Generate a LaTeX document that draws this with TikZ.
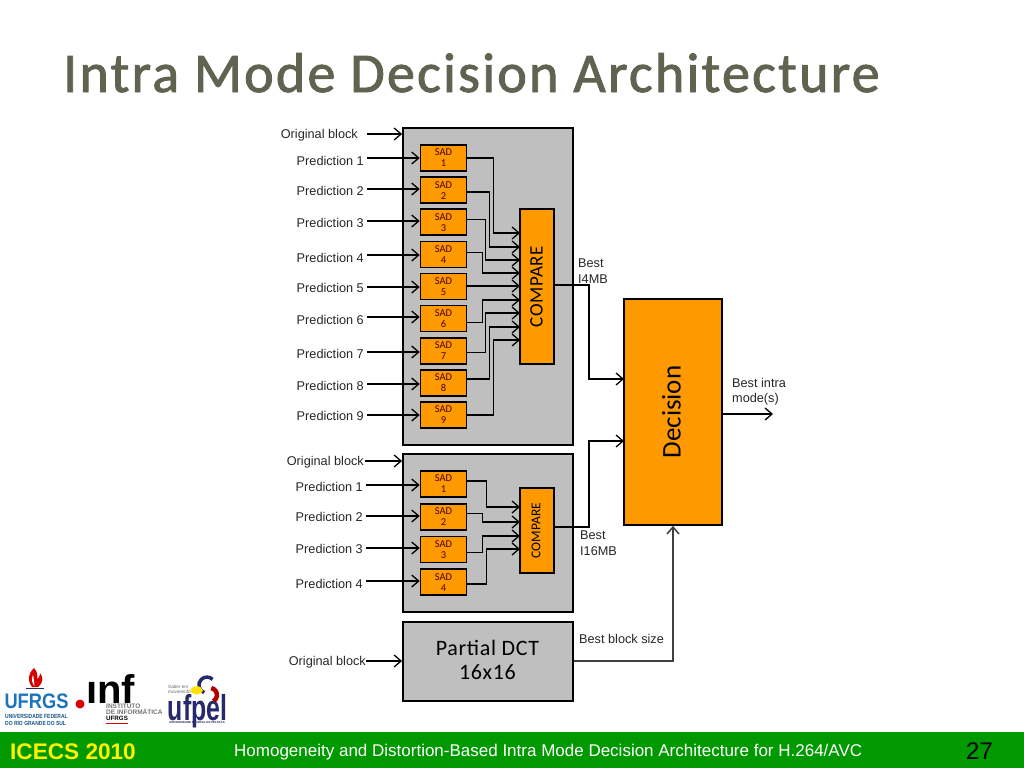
\documentclass[tikz,border=0pt]{standalone}
\usepackage{fontspec}
\setmainfont{Liberation Sans}
\newfontfamily\boxfont{Carlito}
\newfontfamily\wideboxfont[LetterSpace=3]{Carlito}
\newfontfamily\titlefont[LetterSpace=4,FakeBold=1.6]{Carlito}
\usetikzlibrary{arrows.meta}
\definecolor{blockgray}{HTML}{BFBFBF}
\definecolor{sadorange}{HTML}{FF9900}
\definecolor{titlegray}{HTML}{5F6350}
\definecolor{footgreen}{HTML}{009900}
\definecolor{ufblue}{HTML}{1C75BC}
\definecolor{ufnavy}{HTML}{27296D}
\tikzstyle{block} = [rectangle, minimum width=170pt, inner sep=0pt, draw=black, line width=1.8pt, fill=blockgray]
\tikzstyle{sad} = [rectangle, minimum width=46pt, minimum height=26pt, inner sep=0pt, text centered, align=center, draw=black, line width=1.6pt, fill=sadorange, text=black!70!red, font=\boxfont\fontsize{10.5}{11}\selectfont]
\tikzstyle{compare} = [rectangle, minimum width=34pt, inner sep=0pt, draw=black, line width=1.4pt, fill=sadorange, font=\boxfont]
\tikzstyle{label} = [inner sep=0pt, align=left, font=\fontsize{12.7}{15.5}\selectfont, text=black!85]
\tikzstyle{arrow} = [line width=1.3pt,-{Straight Barb[length=7pt,width=12pt]}]

\begin{document}
\begin{tikzpicture}[x=1pt,y=-1pt]
    \useasboundingbox (0,0) rectangle (1024,768);

    % Title and footer
    \node (title) [anchor=base west, inner sep=0pt, text=titlegray, font=\titlefont\fontsize{56}{60}\selectfont] at (63,92) {Intra Mode Decision Architecture};
    \node (footer) [anchor=north west, minimum width=1024pt, minimum height=36pt, inner sep=0pt, fill=footgreen] at (0,732) {};
    \node (conf) [anchor=west, inner sep=0pt, text=yellow, font=\bfseries\fontsize{22.6}{24}\selectfont] at (10,752) {ICECS 2010};
    \node (paper) [anchor=west, inner sep=0pt, text=white, font=\fontsize{17}{18}\selectfont] at (234,752) {Homogeneity and Distortion-Based Intra Mode Decision Architecture for H.264/AVC};
    \node (page) [anchor=west, inner sep=0pt, font=\fontsize{24}{26}\selectfont] at (966,751) {27};

    % Blocks
    \node (block4) [block, minimum height=317pt] at (488,286.5) {};
    \node (block16) [block, minimum height=158pt] at (488,533) {};
    \node (dct) [block, minimum height=79pt] at (488,661.5) {};
    \node (dctText) [align=center, inner sep=0pt, font=\wideboxfont\fontsize{22}{24}\selectfont] at (487.5,659.5) {Partial DCT\\16x16};

    % SAD nodes, I4MB
    \begin{scope}[node distance=32.125pt]
    \node (sad1) [sad] at (443.5,158) {SAD\\1};
    \node (sad2) [sad, below of=sad1] {SAD\\2};
    \node (sad3) [sad, below of=sad2] {SAD\\3};
    \node (sad4) [sad, below of=sad3] {SAD\\4};
    \node (sad5) [sad, below of=sad4] {SAD\\5};
    \node (sad6) [sad, below of=sad5] {SAD\\6};
    \node (sad7) [sad, below of=sad6] {SAD\\7};
    \node (sad8) [sad, below of=sad7] {SAD\\8};
    \node (sad9) [sad, below of=sad8] {SAD\\9};
    \end{scope}

    % SAD nodes, I16MB
    \begin{scope}[node distance=32.7pt]
    \node (sadA) [sad] at (443.5,484) {SAD\\1};
    \node (sadB) [sad, below of=sadA] {SAD\\2};
    \node (sadC) [sad, below of=sadB] {SAD\\3};
    \node (sadD) [sad, below of=sadC] {SAD\\4};
    \end{scope}

    % Compare and decision
    \node (cmp4) [compare, minimum height=155pt, font=\wideboxfont\fontsize{19}{20}\selectfont] at (537,286.5) {\hspace*{-1pt}\rotatebox{90}{COMPARE}};
    \node (cmp16) [compare, minimum height=85pt, font=\boxfont\fontsize{13.5}{14}\selectfont] at (537,530.5) {\hspace*{-2pt}\rotatebox{90}{COMPARE}};
    \node (decision) [compare, minimum width=98pt, minimum height=226pt, line width=1.6pt, font=\boxfont\fontsize{27}{28}\selectfont] at (673,412) {\hspace*{-3pt}\rotatebox{90}{Decision}};

    % Input labels
    \node (orig4) [label, anchor=east] at (358,135.5) {Original block};
    \node (p1) [label, anchor=east] at (364,161) {Prediction 1};
    \node (p2) [label, anchor=east] at (364,190.5) {Prediction 2};
    \node (p3) [label, anchor=east] at (364,222.5) {Prediction 3};
    \node (p4) [label, anchor=east] at (364,257.5) {Prediction 4};
    \node (p5) [label, anchor=east] at (364,288) {Prediction 5};
    \node (p6) [label, anchor=east] at (364,319.5) {Prediction 6};
    \node (p7) [label, anchor=east] at (364,353.5) {Prediction 7};
    \node (p8) [label, anchor=east] at (364,385.5) {Prediction 8};
    \node (p9) [label, anchor=east] at (364,416) {Prediction 9};
    \node (orig16) [label, anchor=east] at (364,462) {Original block};
    \node (pA) [label, anchor=east] at (363,487) {Prediction 1};
    \node (pB) [label, anchor=east] at (363,516.5) {Prediction 2};
    \node (pC) [label, anchor=east] at (363,548.5) {Prediction 3};
    \node (pD) [label, anchor=east] at (363,583.5) {Prediction 4};
    \node (origD) [label, anchor=east] at (366,662.5) {Original block};

    % Output labels
    \node (bestA) [label, anchor=north west] at (578,259) {Best\\I4MB};
    \node (bestB) [label, anchor=north west] at (580,531) {Best\\I16MB};
    \node (bestC) [label, anchor=west] at (579,639) {Best block size};
    \node (bestD) [label, anchor=north west] at (732,378) {Best intra\\mode(s)};

    % Input arrows
    \coordinate (e0) at (367,134);
    \coordinate (e1) at (367,158);
    \coordinate (e2) at (367,189);
    \coordinate (e3) at (367,221);
    \coordinate (e4) at (367,255);
    \coordinate (e5) at (367,287);
    \coordinate (e6) at (367,317);
    \coordinate (e7) at (367,352);
    \coordinate (e8) at (367,384);
    \coordinate (e9) at (367,415);
    \draw [arrow] (e0) -- (e0 -| block4.west);
    \draw [arrow] (e1) -- (e1 -| sad1.west);
    \draw [arrow] (e2) -- (e2 -| sad2.west);
    \draw [arrow] (e3) -- (e3 -| sad3.west);
    \draw [arrow] (e4) -- (e4 -| sad4.west);
    \draw [arrow] (e5) -- (e5 -| sad5.west);
    \draw [arrow] (e6) -- (e6 -| sad6.west);
    \draw [arrow] (e7) -- (e7 -| sad7.west);
    \draw [arrow] (e8) -- (e8 -| sad8.west);
    \draw [arrow] (e9) -- (e9 -| sad9.west);
    \coordinate (f0) at (365,461);
    \coordinate (f1) at (366,485);
    \coordinate (f2) at (366,516);
    \coordinate (f3) at (366,548);
    \coordinate (f4) at (366,581);
    \coordinate (f5) at (366,661);
    \draw [arrow] (f0) -- (f0 -| block16.west);
    \draw [arrow] (f1) -- (f1 -| sadA.west);
    \draw [arrow] (f2) -- (f2 -| sadB.west);
    \draw [arrow] (f3) -- (f3 -| sadC.west);
    \draw [arrow] (f4) -- (f4 -| sadD.west);
    \draw [arrow] (f5) -- (f5 -| dct.west);

    % SAD to compare, I4MB
    \coordinate (i1) at (520,233);
    \coordinate (i2) at (520,247);
    \coordinate (i3) at (520,260);
    \coordinate (i4) at (520,273);
    \coordinate (i5) at (520,286);
    \coordinate (i6) at (520,300);
    \coordinate (i7) at (520,313);
    \coordinate (i8) at (520,327);
    \coordinate (i9) at (520,340);
    \draw [arrow] (sad1.east) -- ++(26,0) |- (i1);
    \draw [arrow] ([yshift=-2pt]sad2.east) -- ++(22,0) |- (i2);
    \draw [arrow] ([yshift=3pt]sad3.east) -- ++(18,0) |- (i3);
    \draw [arrow] ([yshift=2pt]sad4.east) -- ++(15,0) |- (i4);
    \draw [arrow] (sad5.east |- i5) -- (i5);
    \draw [arrow] ([yshift=-4pt]sad6.east) -- ++(15,0) |- (i6);
    \draw [arrow] ([yshift=-2pt]sad7.east) -- ++(18,0) |- (i7);
    \draw [arrow] ([yshift=4pt]sad8.east) -- ++(22,0) |- (i8);
    \draw [arrow] (sad9.east) -- ++(26,0) |- (i9);

    % SAD to compare, I16MB
    \coordinate (iA) at (520,507);
    \coordinate (iB) at (520,522);
    \coordinate (iC) at (520,536);
    \coordinate (iD) at (520,549);
    \draw [arrow] ([yshift=3pt]sadA.east) -- ++(19,0) |- (iA);
    \draw [arrow] ([yshift=3pt]sadB.east) -- ++(15,0) |- (iB);
    \draw [arrow] ([yshift=-3pt]sadC.east) -- ++(15,0) |- (iC);
    \draw [arrow] ([yshift=-2pt]sadD.east) -- ++(19,0) |- (iD);

    % Outputs
    \coordinate (d1) at (624,379);
    \coordinate (d2) at (624,441);
    \coordinate (cOut1) at (554,285);
    \coordinate (cOut2) at (554,527);
    \coordinate (dOut) at (773,414);
    \draw [arrow] (cOut1) -- (589,285) |- (d1);
    \draw [arrow] (cOut2) -- (589,527) |- (d2);
    \draw [arrow, black!75, line width=1.5pt] (dct.east |- f5) -| (decision.south);
    \draw [arrow] (decision.east |- dOut) -- (dOut);

    % UFRGS logo
    \path [fill=red!85!black] (34,668) .. controls (28,674) and (27,680) .. (32,687) -- (38,687) .. controls (44,682) and (43,677) .. (40,673) .. controls (40,677) and (38,678) .. (37,679) .. controls (38,675) and (37,671) .. (34,668);
    \path [fill=white] (33,675) .. controls (31,679) and (32,683) .. (34.5,686) .. controls (34,682) and (34,679) .. (33,675);
    \draw [ufnavy, line width=1.2pt] (26,688.5) -- (44,688.5);
    \node (ufrgs) [anchor=center, inner sep=0pt, xscale=0.87, text=ufblue, font=\bfseries\fontsize{21}{22}\selectfont] at (36.5,701) {UFRGS};
    \node (ufrgsSub) [anchor=north west, inner sep=0pt, xscale=0.83, align=left, text=ufblue!70!black, font=\bfseries\fontsize{6}{6.6}\selectfont] at (5,714) {UNIVERSIDADE FEDERAL\\DO RIO GRANDE DO SUL};

    % Inf logo
    \node (infDot) [circle, minimum size=9pt, inner sep=0pt, fill=red!85!black] at (80,704) {};
    \node (inf) [anchor=base west, inner sep=0pt, font=\bfseries\fontsize{40}{42}\selectfont] at (86,703) {ınf};
    \node (infSub) [anchor=north west, inner sep=0pt, align=left, text=black!55, font=\bfseries\fontsize{6.5}{6.4}\selectfont] at (106,703.5) {INSTITUTO\\DE INFORMÁTICA};
    \node (infUf) [anchor=north west, inner sep=0pt, font=\bfseries\fontsize{6.2}{7}\selectfont] at (106,716) {UFRGS};
    \draw [red!85!black, line width=1pt] (106,723.5) -- (128,723.5);

    % ufpel logo
    \node (ufpel) [anchor=base, inner sep=0pt, xscale=0.69, text=ufnavy, font=\bfseries\fontsize{36}{38}\selectfont] at (197.5,720) {ufpel};
    \draw [ufnavy, line width=3.5pt] (212.6,679.4) arc (-45:-250:8);
    \draw [red!70!black, line width=4.5pt] (211.2,688.1) arc (-80:60:7);
    \path [fill=yellow!85!orange] (190,690) .. controls (195,684) and (201,685) .. (203,691) .. controls (198,696) and (194,696) .. (190,690);
    \node (saber) [anchor=north west, inner sep=0pt, align=left, text=black!60, font=\fontsize{4.6}{5.2}\selectfont] at (168,685) {Saber em\\movimento};
    \node (ufpelSub) [anchor=center, inner sep=0pt, text=ufnavy, font=\bfseries\fontsize{2.9}{3}\selectfont] at (197,722.5) {UNIVERSIDADE FEDERAL DE PELOTAS};
\end{tikzpicture}
\end{document}
